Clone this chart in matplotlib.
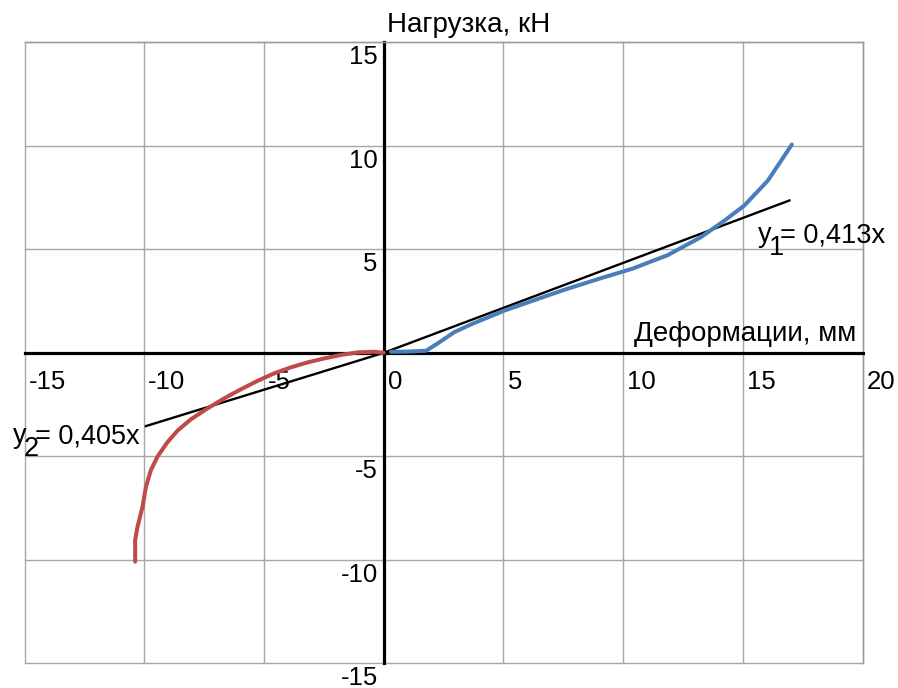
import matplotlib
matplotlib.use('Agg')
import matplotlib.pyplot as plt
from matplotlib.transforms import ScaledTranslation

plt.rcParams['font.family'] = ['Liberation Sans', 'DejaVu Sans']

# tension branch (blue), deformation in mm, load in kN
def_pos = [0.3, 1.0, 1.77, 2.26, 2.95, 3.7, 5.04, 6.85, 7.5, 9.0, 10.4,
           11.86, 13.25, 14.23, 15.06, 16.04, 17.04]
load_pos = [0.05, 0.06, 0.1, 0.46, 1.0, 1.4, 2.04, 2.77, 3.03, 3.58, 4.07,
            4.72, 5.59, 6.39, 7.12, 8.32, 10.06]

# compression branch (red)
def_neg = [0.0, -0.4, -1.08, -1.77, -2.48, -3.17, -3.87, -4.57, -5.26, -5.96,
           -6.66, -7.35, -8.05, -8.6, -9.02, -9.44, -9.72, -9.93, -10.07,
           -10.28, -10.38, -10.38]
load_neg = [0.0, 0.05, 0.02, -0.1, -0.27, -0.46, -0.7, -0.99, -1.35, -1.76,
            -2.2, -2.68, -3.21, -3.75, -4.3, -5.0, -5.66, -6.47, -7.43,
            -8.4, -9.04, -10.09]

# trend lines as drawn
trend1_x = [0.0, 16.94]
trend1_y = [0.0, 7.36]
trend2_x = [0.0, -9.93]
trend2_y = [0.0, -3.54]

x_ticks = [-15, -10, -5, 0, 5, 10, 15, 20]
x_labels = ['-15', '-10', '-5', '0', '5', '10', '15', '20']
y_ticks = [-15, -10, -5, 0, 5, 10, 15]
y_labels = ['-15', '-10', '-5', '', '5', '10', '15']

fig = plt.figure(figsize=(8.98, 6.88), dpi=100)
ax = fig.add_axes([0.0273, 0.0359, 0.9334, 0.9026])

ax.set_xlim(-15, 20)
ax.set_ylim(-15, 15)

# axes through the origin
ax.spines['left'].set_position(('data', 0))
ax.spines['bottom'].set_position(('data', 0))
for s in ['left', 'bottom']:
    ax.spines[s].set_color('black')
    ax.spines[s].set_linewidth(2.3)
for s in ['top', 'right']:
    ax.spines[s].set_color('#9a9a9a')
    ax.spines[s].set_linewidth(1.0)

ax.set_xticks(x_ticks, labels=x_labels)
ax.set_yticks(y_ticks, labels=y_labels)
ax.tick_params(axis='both', length=0, labelsize=18.5)
ax.tick_params(axis='x', pad=12.5)
ax.tick_params(axis='y', pad=4.3)
plt.setp(ax.get_xticklabels(), ha='left')
plt.setp(ax.get_yticklabels(), va='top')
for lab in ax.get_xticklabels():
    lab.set_transform(lab.get_transform() + ScaledTranslation(0.04, 0, fig.dpi_scale_trans))
for lab in ax.get_yticklabels():
    lab.set_transform(lab.get_transform() + ScaledTranslation(0, -0.03, fig.dpi_scale_trans))

ax.grid(True, color='#a6a6a6', linewidth=1.0)
for gl in ax.get_xgridlines() + ax.get_ygridlines():
    gl.set_clip_on(False)

ax.plot(trend1_x, trend1_y, color='black', linewidth=1.7, zorder=2.8)
ax.plot(trend2_x, trend2_y, color='black', linewidth=1.7, zorder=2.8)
ax.plot(def_pos, load_pos, color='#4a7ebb', linewidth=2.9, zorder=3,
        solid_capstyle='round', solid_joinstyle='round')
ax.plot(def_neg, load_neg, color='#be4b48', linewidth=2.9, zorder=3,
        solid_capstyle='round', solid_joinstyle='round')

# trend line equations: y, lowered index, then the rest
for (x0, y0), idx, rest in [((15.62, 5.34), '1', '= 0,413x'),
                            ((-15.5, -4.37), '2', '= 0,405x')]:
    ax.annotate('y', xy=(x0, y0), fontsize=19.5, va='baseline',
                annotation_clip=False)
    ax.annotate(idx, xy=(x0, y0), xytext=(11, -13), textcoords='offset pixels',
                fontsize=19.5, va='baseline', annotation_clip=False)
    ax.annotate(rest, xy=(x0, y0), xytext=(22, 0), textcoords='offset pixels',
                fontsize=19.5, va='baseline', annotation_clip=False)

ax.set_xlabel('Деформации, мм', fontsize=20, ha='right', va='baseline')
ax.xaxis.set_label_coords(0.992, 0.519)
ax.set_ylabel('Нагрузка, кН', fontsize=20, rotation=0, ha='left', va='baseline')
ax.yaxis.set_label_coords(0.432, 1.0166)

fig.savefig('out.png', dpi=100)
